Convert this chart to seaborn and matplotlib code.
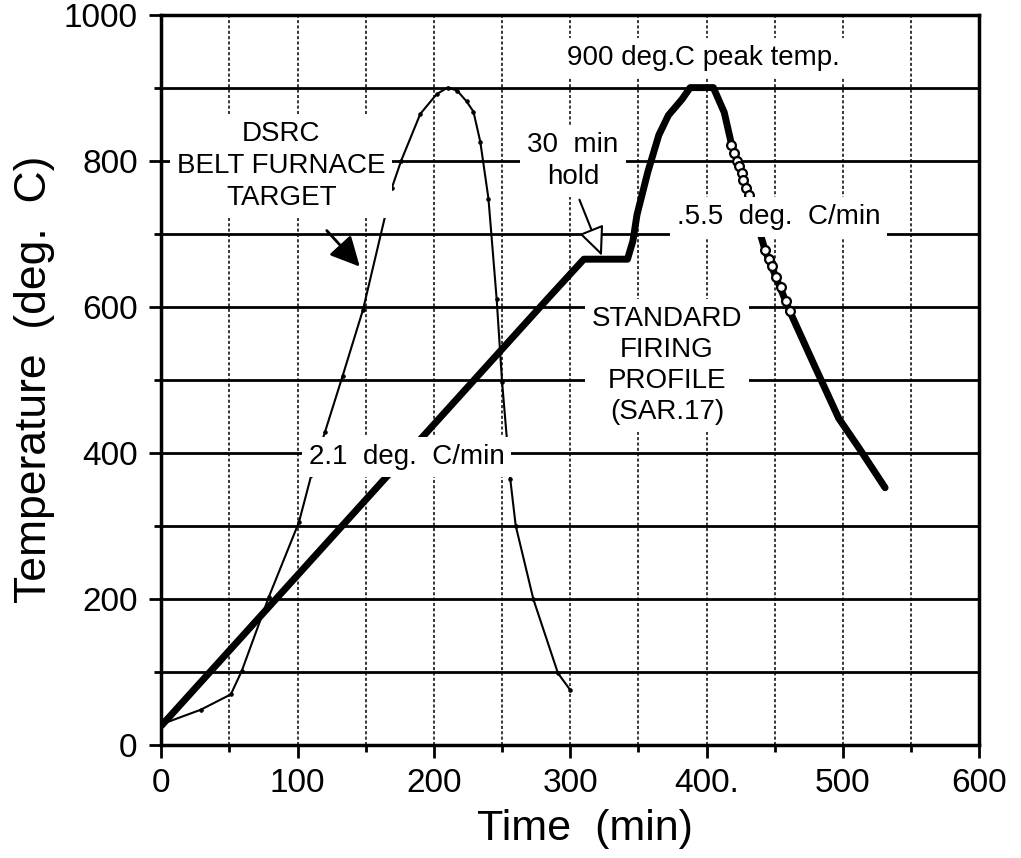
"""Firing profile vs belt furnace target, redrawn from a scanned figure."""

import matplotlib
matplotlib.use("Agg")
import matplotlib.pyplot as plt
import seaborn as sns


# DSRC belt furnace target (thin line)
target_time = [0, 29, 51, 59, 79, 101, 110, 120, 133, 148, 169, 176, 190,
  202, 210, 217, 224, 229, 234, 240, 246, 250, 256, 260, 273, 291, 300]
target_temp = [28, 48, 69, 101, 203, 305, 369, 428, 505, 596, 762, 800, 864,
  891, 900, 896, 881, 867, 826, 748, 611, 497, 364, 300, 199, 98, 75]

# standard firing profile SAR.17 (thick line)
profile_time = [0, 283, 310, 342, 346, 349, 357, 365, 372, 382, 388, 405,
  413, 418, 431, 443, 461, 479, 497, 512, 531]
profile_temp = [26, 610, 665, 665, 690, 726, 785, 835, 862, 884, 900, 900,
  866, 825, 753, 677, 594, 520, 447, 406, 352]

# open circle readings on the cool-down
circle_time = [418, 420, 422, 424, 426, 427, 429, 431,
  443, 446, 448, 451, 455, 458, 461]
circle_temp = [821, 810, 800, 792, 783, 774, 762, 753,
  677, 665, 656, 641, 627, 608, 594]

x_ticks = [0, 100, 200, 300, 400, 500, 600]
x_labels = ["0", "100", "200", "300", "400.", "500", "600"]
y_ticks = [0, 200, 400, 600, 800, 1000]
y_labels = ["0", "200", "400", "600", "800", "1000"]


sns.set_style("ticks")
plt.rcParams['font.family'] = ['Liberation Sans', 'DejaVu Sans']

fig = plt.figure(figsize=(10.21, 8.58), dpi=100)
ax = fig.add_axes([0.158, 0.132, 0.801, 0.851])

sns.lineplot(x=target_time, y=target_temp, ax=ax, color="k", lw=1.5,
    marker="o", ms=2.5, mec="k", sort=False, estimator=None, zorder=2)
sns.lineplot(x=profile_time, y=profile_temp, ax=ax, color="k", lw=5,
    sort=False, estimator=None, solid_capstyle="round", zorder=3)
sns.scatterplot(x=circle_time, y=circle_temp, ax=ax, s=40, color="white",
    edgecolor="k", linewidth=1.6, zorder=4)

# axes and grid
ax.set_xlim(0, 600)
ax.set_ylim(0, 1000)
ax.set_xticks(x_ticks)
ax.set_xticklabels(x_labels)
ax.set_xticks(range(50, 600, 100), minor=True)
ax.set_yticks(y_ticks)
ax.set_yticklabels(y_labels)
ax.set_yticks(range(100, 1000, 200), minor=True)
ax.tick_params(which="both", direction="out", width=2, color="k",
    labelcolor="k", labelsize=24, pad=8)
ax.tick_params(which="major", length=9)
ax.tick_params(which="minor", length=5)
ax.set_axisbelow(True)
ax.xaxis.grid(True, which="both", color="k", ls=(0, (2, 1.5)), lw=1.1)
ax.yaxis.grid(True, which="both", color="k", ls="-", lw=2)
for spine in ax.spines.values():
  spine.set_visible(True)
  spine.set_color("k")
  spine.set_linewidth(2.5)

ax.set_xlabel("Time  (min)", fontsize=31, color="k")
ax.xaxis.set_label_coords(0.518, -0.088)
ax.set_ylabel("Temperature  (deg.  C)", fontsize=32, color="k")
ax.yaxis.set_label_coords(-0.13, 0.5)

# annotations
box = dict(boxstyle="square,pad=0.25", fc="white", ec="none")
note = dict(ha="center", va="center", fontsize=20, color="k", bbox=box,
    zorder=6)
ax.text(88, 792, "DSRC\nBELT FURNACE\nTARGET", linespacing=1.3, **note)
ax.text(302, 800, "30  min\nhold", linespacing=1.3, **note)
ax.text(398, 941, "900 deg.C peak temp.", **note)
ax.text(453, 723, ".5.5  deg.  C/min", **note)
ax.text(180, 394, "2.1  deg.  C/min", **note)
ax.text(371, 520, "STANDARD\nFIRING\nPROFILE\n(SAR.17)", linespacing=1.25,
    **note)

ax.annotate("", xy=(147, 652), xytext=(120, 707), zorder=7,
    arrowprops=dict(arrowstyle="-|>,head_length=0.9,head_width=0.45",
        color="k", lw=2, mutation_scale=20))
ax.annotate("", xy=(324, 666), xytext=(306, 750), zorder=7,
    arrowprops=dict(arrowstyle="-|>,head_length=0.9,head_width=0.4",
        fc="white", ec="k", lw=1.5, mutation_scale=20))

fig.savefig("out.png", dpi=100)
